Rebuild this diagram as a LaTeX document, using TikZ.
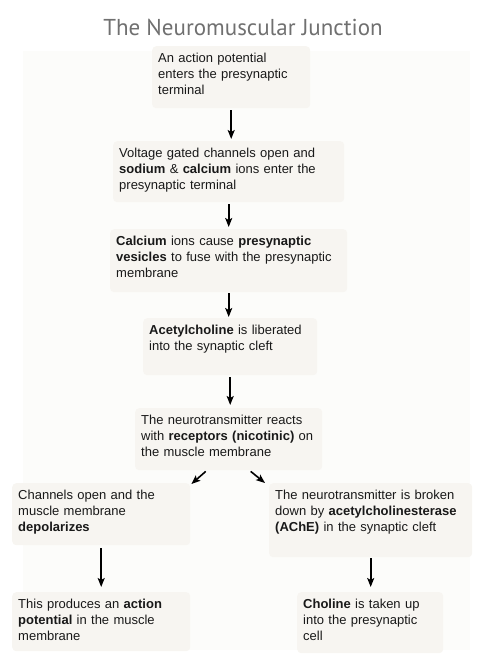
\documentclass[tikz,border=0pt]{standalone}
\usepackage{fontspec}
\setmainfont{Liberation Sans}
\newfontfamily\titlefont{PT Sans}
\usetikzlibrary{arrows.meta}
\definecolor{boxfill}{RGB}{247,245,241}
\definecolor{panelfill}{RGB}{252,252,250}
\definecolor{titlegray}{RGB}{112,112,112}
\definecolor{ink}{RGB}{25,25,25}
\begin{document}
\begin{tikzpicture}[x=1pt,y=-1pt]
				\tikzstyle{every node}=[font=\fontsize{13}{16}\selectfont,text=ink]
				\tikzstyle{box}=[fill=boxfill,rounded corners=4pt,anchor=north west,
				align=left,inner xsep=6pt,inner ysep=7pt,text height=9.5pt]
				\tikzstyle{arr}=[-{Stealth[length=9pt,width=7pt,inset=2pt]},line width=1.6pt,
				shorten <=2pt,shorten >=2pt]
				\useasboundingbox (0,0) rectangle (488,660);
				\fill[panelfill] (23,51) rectangle (470,650);
				\node[anchor=base,text=titlegray,font=\titlefont\fontsize{23}{23}\selectfont] (title) at (243,36) {The Neuromuscular Junction};
				\node[box,text width=146pt,text depth=38.5pt] (ap) at (152,46)
				{An action potential\\enters the presynaptic\\terminal};
				\node[box,text width=219pt,text depth=37.5pt] (volt) at (113,141)
				{Voltage gated channels open and\\\textbf{sodium} \& \textbf{calcium} ions enter the\\presynaptic terminal};
				\node[box,text width=225pt,text depth=39.5pt] (calc) at (110,229)
				{\textbf{Calcium} ions cause \textbf{presynaptic}\\\textbf{vesicles} to fuse with the presynaptic\\membrane};
				\node[box,text width=162pt,text depth=33.5pt] (ach) at (143,318)
				{\textbf{Acetylcholine} is liberated\\into the synaptic cleft};
				\node[box,text width=175pt,text depth=38.5pt] (recep) at (135,408)
				{The neurotransmitter reacts\\with \textbf{receptors (nicotinic)} on\\the muscle membrane};
				\node[box,text width=166pt,text depth=38.5pt] (chan) at (12,483)
				{Channels open and the\\muscle membrane\\\textbf{depolarizes}};
				\node[box,text width=191pt,text depth=50.5pt] (ache) at (269,483)
				{The neurotransmitter is broken\\down by \textbf{acetylcholinesterase}\\\textbf{(AChE)} in the synaptic cleft};
				\node[box,text width=166pt,text depth=35.5pt] (prod) at (12,592)
				{This produces an \textbf{action}\\\textbf{potential} in the muscle\\membrane};
				\node[box,text width=134pt,text depth=37.5pt] (chol) at (297,592)
				{\textbf{Choline} is taken up\\into the presynaptic\\cell};
				\draw[arr] (ap.south) -- (ap.south |- volt.north);
				\draw[arr] (volt.south) -- (volt.south |- calc.north);
				\draw[arr,shorten <=1pt,shorten >=1pt] (calc.south) -- (calc.south |- ach.north);
				\draw[arr,shorten >=3pt] (ach.south) -- (ach.south |- recep.north);
				\draw[arr,shorten <=0pt,shorten >=0pt] ([shift={(-23,1)}]recep.south) -- ([shift={(1,1)}]chan.north east);
				\draw[arr,shorten <=0pt,shorten >=0pt] ([shift={(22,1)}]recep.south) -- ([shift={(-4,0)}]ache.north west);
				\draw[arr,shorten <=3pt,shorten >=5pt] (chan.south) -- (prod.north);
				\draw[arr,shorten <=1pt,shorten >=5pt] (ache.south) -- (ache.south |- chol.north);
\end{tikzpicture}
\end{document}
